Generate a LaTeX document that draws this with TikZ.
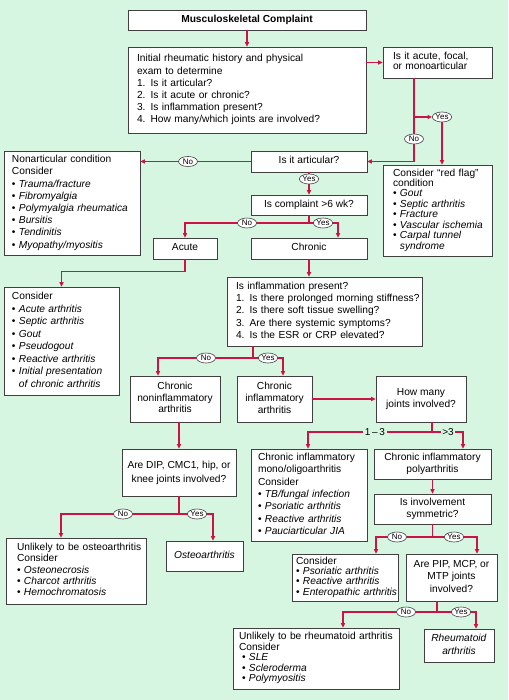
\documentclass[tikz,border=0pt]{standalone}
\usepackage{fontspec}
\setmainfont{Liberation Sans}
\usetikzlibrary{arrows.meta,shapes.geometric,shadows}
\definecolor{bg}{RGB}{215,246,226}
\definecolor{lred}{RGB}{204,20,68}
\tikzset{
  box/.style={draw=black!75, line width=0.6pt, fill=white,
    drop shadow={shadow xshift=1.3pt, shadow yshift=-1.3pt, fill=black!45, opacity=1},
    font=\fontsize{10.2}{12.2}\selectfont, inner ysep=1pt},
  conn/.style={draw=lred, line width=1.1pt, -{Triangle[length=4.5pt,width=4pt]}},
  yn/.style={ellipse, draw=black!75, line width=0.6pt, fill=white, inner sep=0.3pt,
    minimum width=19pt, minimum height=10pt, font=\fontsize{8}{9}\selectfont},
  lbl/.style={fill=bg, inner sep=1.5pt, font=\fontsize{10}{12}\selectfont},
}
% name, x1, y1, x2, y2, pad, stretch, text (left aligned)
\newcommand\mkLbox[8]{%
  \pgfmathsetmacro\bxw{#4-#2}%
  \pgfmathsetmacro\bxh{#5-#3}%
  \pgfmathsetmacro\bxt{#4-#2-2*#6}%
  \pgfmathsetmacro\bxcx{(#2+#4)/2}%
  \pgfmathsetmacro\bxcy{(#3+#5)/2}%
  \node[box, minimum width=\bxw pt, minimum height=\bxh pt, inner xsep=#6pt,
    text width=\bxt pt, align=left] (#1) at (\bxcx,\bxcy)
    {\renewcommand\arraystretch{#7}\begin{tabular}{@{}l@{}}#8\end{tabular}};}
% name, x1, y1, x2, y2, stretch, text (centred)
\newcommand\mkCbox[7]{%
  \pgfmathsetmacro\bxw{#4-#2}%
  \pgfmathsetmacro\bxh{#5-#3}%
  \pgfmathsetmacro\bxcx{(#2+#4)/2}%
  \pgfmathsetmacro\bxcy{(#3+#5)/2}%
  \node[box, minimum width=\bxw pt, minimum height=\bxh pt, inner xsep=2pt,
    align=center] (#1) at (\bxcx,\bxcy)
    {\renewcommand\arraystretch{#6}\begin{tabular}{@{}c@{}}#7\end{tabular}};}
\newcommand\itm[1]{\textbullet\ \textit{#1}}
\begin{document}
\begin{tikzpicture}[x=1pt,y=-1pt]
\fill[bg] (0,0) rectangle (508,700);
\useasboundingbox (0,0) rectangle (508,700);

\mkCbox{top}{128}{10}{366}{30}{1}{\textbf{Musculoskeletal Complaint}}
\mkLbox{init}{128}{47}{366}{133}{9}{1}{Initial rheumatic history and physical\\exam to determine\\1. Is it articular?\\2. Is it acute or chronic?\\3. Is inflammation present?\\4. How many/which joints are involved?}
\mkLbox{focal}{383}{47}{492}{78}{10}{0.82}{Is it acute, focal,\\or monoarticular}
\mkCbox{art}{251}{151}{367}{172}{1}{Is it articular?}
\mkLbox{nonart}{4}{151}{140}{255}{8}{1}{Nonarticular condition\\Consider\\\itm{Trauma/fracture}\\\itm{Fibromyalgia}\\\itm{Polymyalgia rheumatica}\\\itm{Bursitis}\\\itm{Tendinitis}\\\itm{Myopathy/myositis}}
\mkLbox{redflag}{383}{165}{492}{256}{10}{0.85}{Consider ``red flag''\\condition\\\itm{Gout}\\\itm{Septic arthritis}\\\itm{Fracture}\\\itm{Vascular ischemia}\\\itm{Carpal tunnel}\\\hphantom{\textbullet\ }\textit{syndrome}}
\mkCbox{complaint}{251}{195}{367}{215}{1}{Is complaint >6 wk?}
\mkCbox{acuteb}{153}{238}{217}{259}{1}{Acute}
\mkCbox{chronic}{251}{238}{367}{259}{1}{Chronic}
\mkLbox{consA}{4}{287}{119}{395}{8}{1.02}{Consider\\\itm{Acute arthritis}\\\itm{Septic arthritis}\\\itm{Gout}\\\itm{Pseudogout}\\\itm{Reactive arthritis}\\\itm{Initial presentation}\\\hphantom{\textbullet\ }\textit{of chronic arthritis}}
\mkLbox{inflam}{227}{277}{422}{346}{9}{1.02}{Is inflammation present?\\1. Is there prolonged morning stiffness?\\2. Is there soft tissue swelling?\\3. Are there systemic symptoms?\\4. Is the ESR or CRP elevated?}
\mkCbox{noninf}{130}{376}{220}{422}{0.95}{Chronic\\noninflammatory\\arthritis}
\mkCbox{inf}{237}{376}{312}{422}{0.98}{Chronic\\inflammatory\\arthritis}
\mkCbox{howmany}{376}{376}{466}{422}{1}{How many\\joints involved?}
\mkCbox{dip}{122}{449}{236}{496}{1.15}{Are DIP, CMC1, hip, or\\knee joints involved?}
\mkLbox{unlOA}{6}{538}{146}{604}{11}{0.93}{Unlikely to be osteoarthritis\\Consider\\\itm{Osteonecrosis}\\\itm{Charcot arthritis}\\\itm{Hemochromatosis}}
\mkCbox{OA}{166}{541}{243}{571}{1}{\textit{Osteoarthritis}}
\mkLbox{mono}{251}{449}{367}{541}{7}{1.01}{Chronic inflammatory\\mono/oligoarthritis\\Consider\\\itm{TB/fungal infection}\\\itm{Psoriatic arthritis}\\\itm{Reactive arthritis}\\\itm{Pauciarticular JIA}}
\mkCbox{poly}{374}{449}{491}{479}{1}{Chronic inflammatory\\polyarthritis}
\mkCbox{invol}{374}{494}{491}{524}{1.05}{Is involvement\\symmetric?}
\mkLbox{consP}{292}{554}{398}{601}{4}{0.82}{Consider\\\itm{Psoriatic arthritis}\\\itm{Reactive arthritis}\\\itm{Enteropathic arthritis}}
\mkCbox{pip}{406}{554}{497}{601}{1}{Are PIP, MCP, or\\MTP joints\\involved?}
\mkLbox{unlRA}{233}{628}{399}{689}{6}{0.85}{Unlikely to be rheumatoid arthritis\\Consider\\\hspace{3pt}\itm{SLE}\\\hspace{3pt}\itm{Scleroderma}\\\hspace{3pt}\itm{Polymyositis}}
\mkCbox{RA}{424}{629}{494}{662}{1}{\textit{Rheumatoid}\\\textit{arthritis}}

% connectors
\draw[conn] (top) -- (init);
\draw[conn] (focal.west -| init.east) -- (focal.west);
\coordinate (j1) at (414,117);
\node[yn] (y1) at (442,117) {Yes};
\draw[conn] (j1 |- focal.south) -- (j1 |- art.east) -- (art.east);
\draw[conn] (j1) -- (y1.west);
\draw[conn] (y1.south) -- (y1.south |- redflag.north);
\node[yn] (n1) at (414,139) {No};

\draw[conn] (art.west) -- (art.west -| nonart.east);
\node[yn] (n2) at (188,161.5) {No};

\draw[conn] (art) -- (complaint);
\node[yn] (y2) at (309,179) {Yes};

\coordinate (j3) at (338,223);
\draw[conn] (complaint.south) |- (acuteb.north |- j3) -- (acuteb.north);
\draw[conn] (complaint.south) |- (j3) -- (j3 |- chronic.north);
\node[yn] (n3) at (247,223) {No};
\node[yn] (y3) at (323,223) {Yes};

\draw[conn] (acuteb.south) -- ++(0,12) -| (consA.north);
\draw[conn] (chronic.south) -- (chronic.south |- inflam.north);

\coordinate (j4) at (253,358);
\coordinate (j5) at (158,358);
\coordinate (j6) at (283,358);
\draw[conn] (j4 |- inflam.south) -- (j4) -- (j5) -- (j5 |- noninf.north);
\draw[conn] (j4) -- (j6) -- (j6 |- inf.north);
\node[yn] (n4) at (206,358) {No};
\node[yn] (y4) at (268,358) {Yes};

\draw[conn] (inf.east) -- (inf.east -| howmany.west);
\draw[conn] (dip.north |- noninf.south) -- (dip.north);

\coordinate (j7) at (61,514);
\coordinate (j8) at (213,514);
\draw[conn] (dip.south) |- (j7) -- (j7 |- unlOA.north);
\draw[conn] (dip.south) |- (j8) -- (j8 |- OA.north);
\node[yn] (n5) at (123,514) {No};
\node[yn] (y5) at (197,514) {Yes};

\coordinate (j9) at (432,432);
\coordinate (j10) at (308,432);
\coordinate (j11) at (463,432);
\draw[conn] (j9 |- howmany.south) -- (j9) -- (j10) -- (j10 |- mono.north);
\draw[conn] (j9) -- (j11) -- (j11 |- poly.north);
\node[lbl] (l13) at (375,432) {1\,–\,3};
\node[lbl] (lg3) at (448,432) {>3};

\draw[conn] (poly) -- (invol);

\coordinate (j12) at (376,537);
\coordinate (j13) at (477,537);
\draw[conn] (invol.south) |- (j12) -- (j12 |- consP.north);
\draw[conn] (invol.south) |- (j13) -- (j13 |- pip.north);
\node[yn] (n6) at (397,537) {No};
\node[yn] (y6) at (454,537) {Yes};

\coordinate (j14) at (437,612);
\coordinate (j15) at (343,612);
\coordinate (j16) at (476,612);
\draw[conn] (j14 |- pip.south) -- (j14) -- (j15) -- (j15 |- unlRA.north);
\draw[conn] (j14) -- (j16) -- (j16 |- RA.north);
\node[yn] (n7) at (406,612) {No};
\node[yn] (y7) at (461,612) {Yes};
\end{tikzpicture}
\end{document}
